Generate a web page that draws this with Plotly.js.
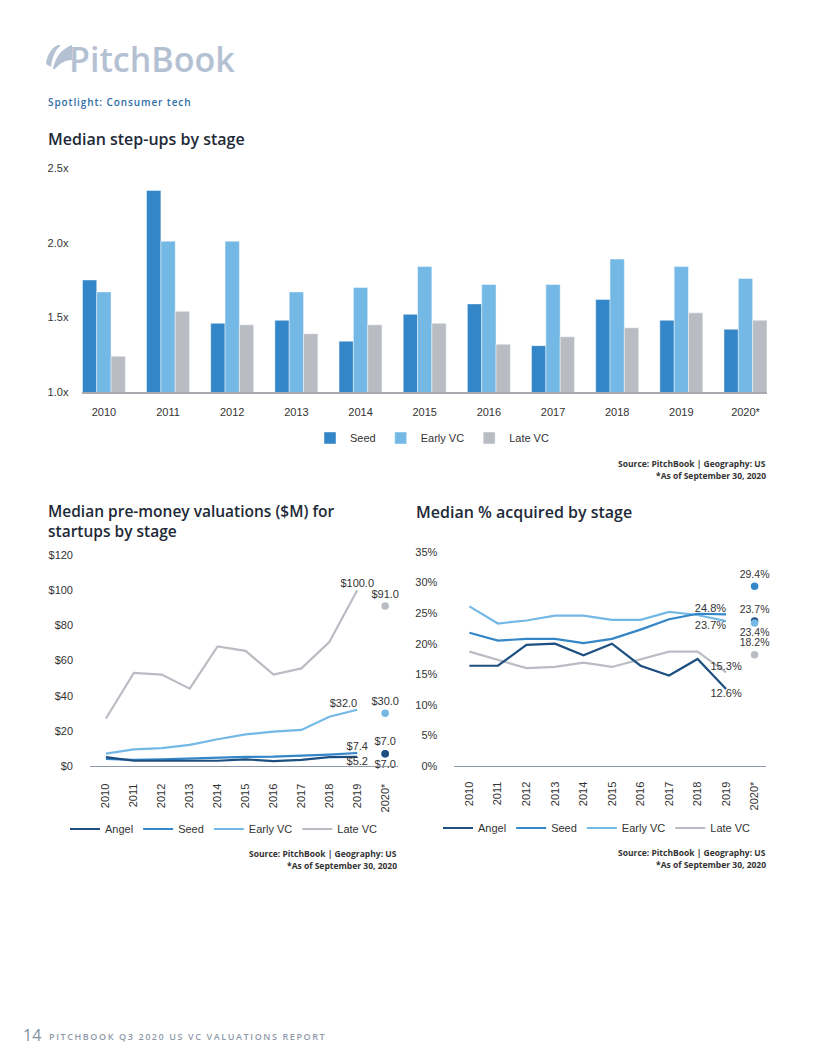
<!DOCTYPE html>
<html><head><meta charset="utf-8">
<script src="https://cdn.plot.ly/plotly-3.0.1.min.js"></script>
<style>
html,body{margin:0;padding:0;background:#fff;}
#chart{width:816px;height:1056px;}
</style>
</head><body><div id="chart"></div>
<script>
// ---------- DATA ----------
const years = ['2010','2011','2012','2013','2014','2015','2016','2017','2018','2019'];
const yearsAll = ['2010','2011','2012','2013','2014','2015','2016','2017','2018','2019','2020*'];
const lastYear = '2020*';

// Median step-ups by stage (x)
const stepSeed  = [1.75, 2.35, 1.46, 1.48, 1.34, 1.52, 1.59, 1.31, 1.62, 1.48, 1.42];
const stepEarly = [1.67, 2.01, 2.01, 1.67, 1.70, 1.84, 1.72, 1.72, 1.89, 1.84, 1.76];
const stepLate  = [1.24, 1.54, 1.45, 1.39, 1.45, 1.46, 1.32, 1.37, 1.43, 1.53, 1.48];
const stepTicks = [1.0, 1.5, 2.0, 2.5];

// Median pre-money valuations ($M), 2010-2019 lines and 2020* points
const valAngel = [5.0, 3.0, 3.0, 3.2, 3.0, 3.8, 2.8, 3.5, 5.0, 5.2];
const valSeed  = [4.0, 3.5, 3.8, 4.3, 4.5, 5.2, 5.3, 5.8, 6.5, 7.4];
const valEarly = [7.0, 9.5, 10.2, 12.0, 15.2, 18.0, 19.5, 20.5, 28.0, 32.0];
const valLate  = [27.0, 53.0, 52.0, 44.0, 68.0, 65.5, 52.0, 55.5, 70.5, 100.0];
const val2020  = {Angel: 7.0, Seed: 7.0, Early: 30.0, Late: 91.0};

// Median % acquired by stage, 2010-2019 lines and 2020* points
const acqAngel = [16.4, 16.4, 19.8, 20.0, 18.1, 20.0, 16.4, 14.8, 17.5, 12.6];
const acqSeed  = [21.8, 20.5, 20.8, 20.8, 20.1, 20.8, 22.3, 24.0, 24.9, 24.8];
const acqEarly = [26.1, 23.3, 23.8, 24.6, 24.6, 23.9, 23.9, 25.2, 24.7, 23.7];
const acqLate  = [18.7, 17.3, 16.0, 16.2, 16.9, 16.2, 17.5, 18.7, 18.7, 15.3];
const acq2020  = {Angel: 23.7, Seed: 29.4, Early: 23.4, Late: 18.2};

// ---------- STYLE ----------
const C = {Angel:'#1D4F80', Seed:'#3386C8', Early:'#74B9E5', Late:'#B9BDC3'};
const tickFont = {family:'Liberation Sans, Arial, sans-serif', size:11, color:'#333333'};
const labelFont = {family:'Liberation Sans, Arial, sans-serif', size:11, color:'#333333'};
const W = 816, H = 1056;
const px = x => x / W;
const py = y => 1 - y / H;

const traces = [];
// Bar chart
[['Seed', stepSeed, C.Seed], ['Early VC', stepEarly, C.Early], ['Late VC', stepLate, C.Late]].forEach(([n, v, c]) => {
  traces.push({type:'bar', name:n, x:yearsAll, y:v, xaxis:'x', yaxis:'y',
    marker:{color:c, line:{color:'rgba(255,255,255,0.55)', width:0.8}}, legend:'legend', hoverinfo:'skip'});
});

const lastLabel = (arr, fmt) => arr.map((v, i) => i === arr.length - 1 ? fmt(v) : '');
const fmtD = v => '$' + v.toFixed(1);
const fmtP = v => v.toFixed(1) + '%';
const keyOf = {'Angel':'Angel','Seed':'Seed','Early VC':'Early','Late VC':'Late'};
const rankOf = {'Angel':1,'Seed':2,'Early VC':3,'Late VC':4};

// Valuations lines: [name, values, colour, 2019 label position, 2020 label position]
const valSeries = [
  ['Angel', valAngel, C.Angel, 'bottom center', 'bottom center'],
  ['Seed', valSeed, C.Seed, 'top center', 'top center'],
  ['Early VC', valEarly, C.Early, 'top left', 'top center'],
  ['Late VC', valLate, C.Late, 'top center', 'top center']
];
valSeries.slice().reverse().forEach(([n, v, c, tp]) => {
  traces.push({type:'scatter', mode:'lines+text', name:n, x:years, y:v, xaxis:'x2', yaxis:'y2',
    line:{color:c, width:2.2}, text:lastLabel(v, fmtD), textposition:tp, textfont:labelFont,
    cliponaxis:false, legend:'legend2', legendrank:rankOf[n], hoverinfo:'skip'});
});
valSeries.slice().reverse().forEach(([n, v, c, tp, tp20]) => {
  const val = val2020[keyOf[n]];
  traces.push({type:'scatter', mode:'markers+text', name:n, x:[lastYear], y:[val], xaxis:'x2', yaxis:'y2',
    marker:{color:c, size:7.5}, text:[fmtD(val)], textposition:tp20, textfont:labelFont,
    cliponaxis:false, showlegend:false, hoverinfo:'skip'});
});

// Acquired lines
const acqSeries = [
  ['Angel', acqAngel, C.Angel, 'bottom center', 'top center'],
  ['Seed', acqSeed, C.Seed, 'top left', 'top center'],
  ['Early VC', acqEarly, C.Early, 'bottom left', 'bottom center'],
  ['Late VC', acqLate, C.Late, 'top center', 'top center']
];
acqSeries.slice().reverse().forEach(([n, v, c, tp]) => {
  traces.push({type:'scatter', mode:'lines+text', name:n, x:years, y:v, xaxis:'x3', yaxis:'y3',
    line:{color:c, width:2.2}, text:lastLabel(v, fmtP), textposition:tp, textfont:labelFont,
    cliponaxis:false, legend:'legend3', legendrank:rankOf[n], hoverinfo:'skip'});
});
acqSeries.forEach(([n, v, c, tp, tp20]) => {
  const val = acq2020[keyOf[n]];
  traces.push({type:'scatter', mode:'markers+text', name:n, x:[lastYear], y:[val], xaxis:'x3', yaxis:'y3',
    marker:{color:c, size:7.5}, text:[fmtP(val)], textposition:tp20,
    textfont:Object.assign({}, labelFont, {size:10.5}),
    cliponaxis:false, showlegend:false, hoverinfo:'skip'});
});

const baseX = {type:'category', categoryorder:'array', categoryarray:yearsAll, showgrid:false, zeroline:false,
  ticks:'', tickfont:tickFont, fixedrange:true};
const baseY = {showgrid:false, zeroline:false, showline:false, ticks:'', tickfont:tickFont, fixedrange:true};

function ann(text, x, y, o) {
  o = o || {};
  return Object.assign({xref:'paper', yref:'paper', x:px(x), y:py(y), text:text, showarrow:false,
    xanchor:'left', yanchor:'middle', align:'left',
    font:{family:'Open Sans, sans-serif', size:11, color:'#333'}}, o);
}
const srcFont = {family:'Open Sans, sans-serif', size:8.5, color:'#333', weight:'bold'};
const titleFont = {family:'Open Sans, sans-serif', size:16, color:'#1E2A38', weight:600};
const legFont = {family:'Liberation Sans, Arial, sans-serif', size:11, color:'#333'};

function pathPx(pts) {
  return pts.map(p => px(p[0]).toFixed(5) + ',' + py(p[1]).toFixed(5)).join(' ');
}
const logoColor = '#B4C1D3';

const layout = {
  width:W, height:H, margin:{l:0, r:0, t:0, b:0},
  paper_bgcolor:'#fff', plot_bgcolor:'rgba(0,0,0,0)',
  barmode:'group', bargap:0.33, bargroupgap:0,
  font:{family:'Liberation Sans, Arial, sans-serif', color:'#333'},
  xaxis: Object.assign({}, baseX, {domain:[px(82.4), px(767)], anchor:'y', range:[-0.335, 10.335],
    showline:true, linecolor:'#A7ABB0', linewidth:2, ticklabelstandoff:9}),
  yaxis: Object.assign({}, baseY, {domain:[py(392), py(168)], anchor:'x', range:[1, 2.5],
    tickmode:'array', tickvals:stepTicks, ticktext:stepTicks.map(v => v.toFixed(1) + 'x'), ticklabelstandoff:13}),
  xaxis2: Object.assign({}, baseX, {domain:[px(90), px(398)], anchor:'y2', range:[-0.57, 10.46],
    showline:true, linecolor:'#8E9AAA', linewidth:1.3, tickangle:-90, ticklabelstandoff:12}),
  yaxis2: Object.assign({}, baseY, {domain:[py(766), py(555)], anchor:'x2', range:[0, 120],
    dtick:20, tick0:0, tickprefix:'$', ticklabelstandoff:16}),
  xaxis3: Object.assign({}, baseX, {domain:[px(454.3), px(766)], anchor:'y3', range:[-0.53, 10.4],
    showline:true, linecolor:'#8E9AAA', linewidth:1.3, tickangle:-90, ticklabelstandoff:10}),
  yaxis3: Object.assign({}, baseY, {domain:[py(766), py(552)], anchor:'x3', range:[0, 35],
    dtick:5, tick0:0, ticksuffix:'%', ticklabelstandoff:16}),
  legend: {orientation:'h', x:px(432), y:py(438), xanchor:'center', yanchor:'middle',
    font:legFont, itemwidth:30, bgcolor:'rgba(0,0,0,0)'},
  legend2: {orientation:'h', x:px(224), y:py(829), xanchor:'center', yanchor:'middle',
    font:legFont, itemwidth:30, bgcolor:'rgba(0,0,0,0)', traceorder:'normal'},
  legend3: {orientation:'h', x:px(597), y:py(828), xanchor:'center', yanchor:'middle',
    font:legFont, itemwidth:30, bgcolor:'rgba(0,0,0,0)', traceorder:'normal'},
  shapes: [
    {type:'path', xref:'paper', yref:'paper', fillcolor:logoColor, line:{width:0},
     path:'M' + pathPx([[46,64]]) + ' C' + pathPx([[47,56],[51,48],[58,45]]) + ' L' + pathPx([[61,45]]) +
          ' C' + pathPx([[55,50],[52,58],[51,67]]) + ' Z'},
    {type:'path', xref:'paper', yref:'paper', fillcolor:logoColor, line:{width:0},
     path:'M' + pathPx([[53,69]]) + ' C' + pathPx([[55,58],[61,49],[72,45]]) + ' L' + pathPx([[72,60]]) +
          ' C' + pathPx([[66,60],[60,63],[55,69]]) + ' Z'}
  ],
  annotations: [
    ann('PitchBook', 67, 59, {font:{family:'Open Sans, sans-serif', size:34, color:logoColor, weight:600}}),
    ann('Spotlight: Consumer tech', 46, 102, {font:{family:'Open Sans, sans-serif', size:10, color:'#2F6EA6', weight:600}}),
    ann('Median step-ups by stage', 46, 139, {font:titleFont}),
    ann('Source: PitchBook | Geography: US', 768, 463, {xanchor:'right', align:'right', font:srcFont}),
    ann('*As of September 30, 2020', 768, 475, {xanchor:'right', align:'right', font:srcFont}),
    ann('Median pre-money valuations ($M) for<br>startups by stage', 46, 521, {font:Object.assign({}, titleFont, {size:15.5})}),
    ann('Median % acquired by stage', 414, 512, {font:titleFont}),
    ann('Source: PitchBook | Geography: US', 399, 853, {xanchor:'right', align:'right', font:srcFont}),
    ann('*As of September 30, 2020', 399, 865, {xanchor:'right', align:'right', font:srcFont}),
    ann('Source: PitchBook | Geography: US', 768, 852, {xanchor:'right', align:'right', font:srcFont}),
    ann('*As of September 30, 2020', 768, 864, {xanchor:'right', align:'right', font:srcFont}),
    ann('14', 21, 1035, {font:{family:'Open Sans, sans-serif', size:16, color:'#8390A2'}}),
    ann('PITCHBOOK Q3 2020 US VC VALUATIONS REPORT', 47, 1036, {font:{family:'Open Sans, sans-serif', size:9, color:'#8F9AAB', weight:600}})
  ]
};

Plotly.newPlot('chart', traces, layout, {displayModeBar:false, staticPlot:true}).then(gd => {
  const spacing = {'Spotlight: Consumer tech':'0.9px', 'PITCHBOOK Q3 2020 US VC VALUATIONS REPORT':'1.6px'};
  gd.querySelectorAll('.annotation-text').forEach(t => {
    const s = spacing[t.textContent];
    if (s) t.style.letterSpacing = s;
  });
});
</script>
</body></html>
